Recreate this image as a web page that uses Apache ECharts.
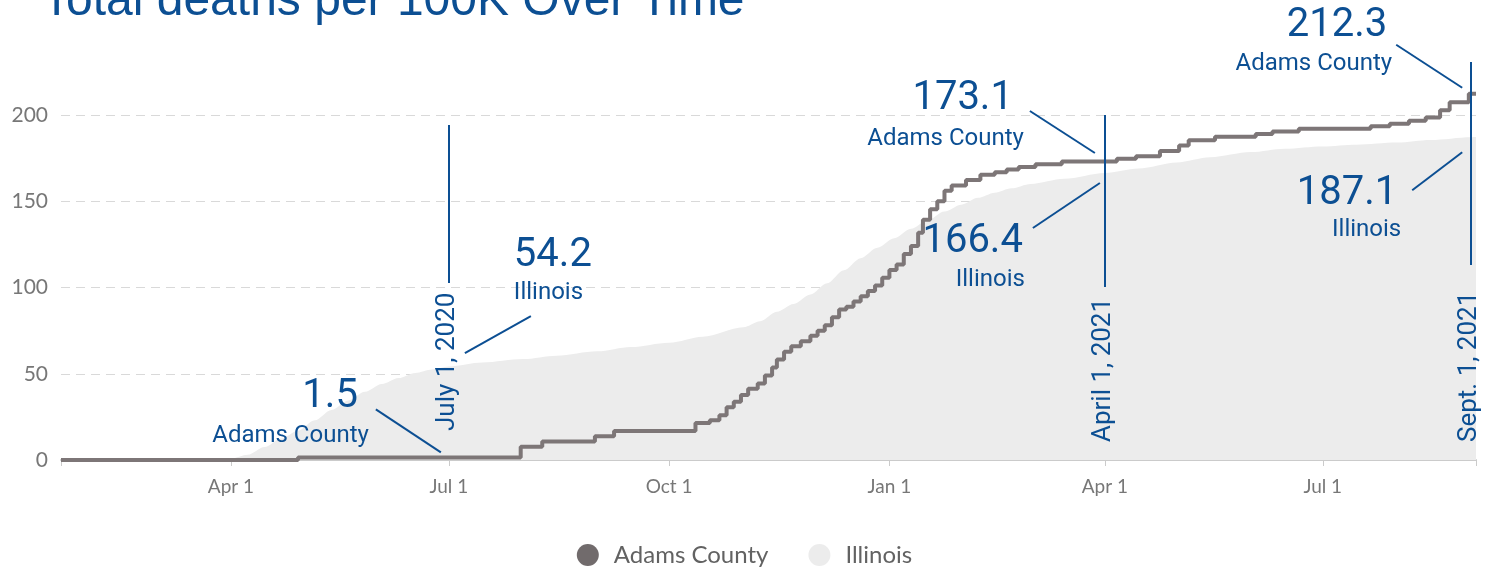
<!DOCTYPE html>
<html>
<head>
<meta charset="utf-8">
<title>Total deaths per 100K Over Time</title>
<script src="https://cdn.jsdelivr.net/npm/echarts@6/dist/echarts.min.js"></script>
<style>
  html, body { margin: 0; padding: 0; background: #ffffff; }
  #chart { width: 1489px; height: 569px; }
</style>
</head>
<body>
<div id="chart"></div>
<script>
// Cumulative COVID-19 deaths per 100,000 residents.

// Adams County: date on which the running total changed, and the new total.
const adamsDates = [
  '2020-01-21', '2020-04-29', '2020-07-31', '2020-08-09', '2020-08-31', '2020-09-08',
  '2020-10-12', '2020-10-18', '2020-10-22', '2020-10-25', '2020-10-28', '2020-10-31',
  '2020-11-03', '2020-11-07', '2020-11-10', '2020-11-13', '2020-11-15', '2020-11-18',
  '2020-11-21', '2020-11-25', '2020-11-29', '2020-12-02', '2020-12-05', '2020-12-08',
  '2020-12-11', '2020-12-14', '2020-12-17', '2020-12-20', '2020-12-23', '2020-12-26',
  '2020-12-29', '2021-01-01', '2021-01-04', '2021-01-07', '2021-01-10', '2021-01-13',
  '2021-01-15', '2021-01-18', '2021-01-21', '2021-01-24', '2021-01-27', '2021-02-02',
  '2021-02-08', '2021-02-14', '2021-02-19', '2021-02-24', '2021-03-03', '2021-03-14',
  '2021-04-06', '2021-04-14', '2021-04-24', '2021-05-02', '2021-05-06', '2021-05-17',
  '2021-06-03', '2021-06-10', '2021-06-21', '2021-07-21', '2021-07-29', '2021-08-06',
  '2021-08-13', '2021-08-19', '2021-08-23', '2021-08-31', '2021-09-03'
];
const adamsValues = [
  0, 1.5, 7.7, 10.7, 13.8, 16.8,
  21.4, 23.0, 26.0, 30.6, 33.7, 37.7,
  41.3, 44.4, 49.0, 53.6, 58.2, 62.8,
  65.9, 68.9, 72.0, 75.0, 78.1, 82.7,
  87.3, 88.8, 91.9, 94.9, 98.0, 101.1,
  105.7, 110.2, 113.3, 119.4, 124.0, 131.7,
  139.3, 145.4, 150.0, 156.1, 159.2, 162.3,
  165.3, 166.8, 168.4, 169.9, 171.5, 173.1,
  174.6, 176.1, 179.2, 182.3, 185.3, 187.4,
  189.0, 190.5, 192.0, 193.5, 195.0, 196.6,
  198.6, 202.8, 207.4, 212.3, 212.3
];

// Illinois statewide.
const illinoisDates = [
  '2020-01-21', '2020-03-15', '2020-03-25', '2020-04-01', '2020-04-08', '2020-04-15',
  '2020-04-22', '2020-04-29', '2020-05-06', '2020-05-13', '2020-05-20', '2020-05-27',
  '2020-06-03', '2020-06-10', '2020-06-17', '2020-06-24', '2020-07-01', '2020-07-15',
  '2020-08-01', '2020-08-15', '2020-09-01', '2020-09-15', '2020-10-01', '2020-10-15',
  '2020-11-01', '2020-11-08', '2020-11-15', '2020-11-22', '2020-11-29', '2020-12-06',
  '2020-12-13', '2020-12-20', '2020-12-27', '2021-01-03', '2021-01-10', '2021-01-17',
  '2021-01-24', '2021-01-31', '2021-02-07', '2021-02-14', '2021-02-21', '2021-03-01',
  '2021-03-15', '2021-04-01', '2021-04-15', '2021-05-01', '2021-05-15', '2021-06-01',
  '2021-06-15', '2021-07-01', '2021-07-15', '2021-08-01', '2021-08-15', '2021-09-01',
  '2021-09-03'
];
const illinoisValues = [
  0, 0, 0.3, 0.8, 3.0, 7.5,
  12.5, 17.0, 23.0, 29.0, 34.5, 39.5,
  44.0, 47.5, 50.5, 52.5, 54.2, 56.5,
  58.5, 60.5, 63.0, 65.5, 68.0, 71.5,
  77.0, 80.5, 86.0, 90.5, 96.0, 102.5,
  110.0, 117.0, 123.0, 128.5, 134.0, 139.0,
  144.0, 148.0, 152.0, 155.0, 157.5, 160.0,
  163.0, 166.4, 169.0, 172.5, 175.5, 178.5,
  180.5, 181.8, 182.8, 184.0, 185.5, 187.1,
  187.2
];

// Axis ticks.
const tickDates = ['2020-04-01', '2020-07-01', '2020-10-01', '2021-01-01', '2021-04-01', '2021-07-01'];
const tickLabels = ['Apr 1', 'Jul 1', 'Oct 1', 'Jan 1', 'Apr 1', 'Jul 1'];
const axisStart = '2020-01-21';
const axisEnd = '2021-09-03';

// Dated reference lines and the values called out beside them.
const markerDates = ['2020-07-01', '2021-04-01', '2021-09-01'];
const markerLabels = ['July 1, 2020', 'April 1, 2021', 'Sept. 1, 2021'];
const calloutDates = ['2020-07-01', '2020-07-01', '2021-04-01', '2021-04-01', '2021-09-01', '2021-09-01'];
const calloutValues = [1.5, 54.2, 173.1, 166.4, 212.3, 187.1];
const calloutNames = ['Adams County', 'Illinois', 'Adams County', 'Illinois', 'Adams County', 'Illinois'];

// ---- layout and styling ----
const BLUE = '#0c4f93';
const markerLayout = [
  { top: 125, bottom: 283, textBottom: 431 },
  { top: 115, bottom: 287, textBottom: 442 },
  { top: 62, bottom: 265, textBottom: 442 }
];
// Offsets of each callout relative to the point it describes.
const calloutLayout = [
  { align: 'right', num: [-91, -60],   name: [-80, -21],   from: [-73, -48],   to: [-8, -5] },
  { align: 'left',  num: [65, -110.5], name: [65, -73.5],  from: [16, -13.5],  to: [82, -50.5] },
  { align: 'right', num: [-92, -62.4], name: [-81, -22.4], from: [-75, -50.4], to: [-10, -8.4] },
  { align: 'right', num: [-82, 69.5],  name: [-80, 107],   from: [-72, 55],    to: [-5, 10] },
  { align: 'right', num: [-84, -67.8], name: [-79, -29.8], from: [-75, -49],   to: [-9, -6] },
  { align: 'right', num: [-74, 56.7],  name: [-70, 93],    from: [-59, 53],    to: [-9, 15] }
];

// Dates are placed on a linear value axis as local-midnight timestamps.
function toTime(s) {
  const p = s.split('-').map(Number);
  return new Date(p[0], p[1] - 1, p[2]).getTime();
}

const labelByTime = {};
tickDates.forEach((d, i) => { labelByTime[toTime(d)] = tickLabels[i]; });
const tickTimes = tickDates.map(toTime);
const tickMarkTimes = [toTime(axisStart)].concat(tickTimes, [toTime(axisEnd)]);

const chart = echarts.init(document.getElementById('chart'), null, { renderer: 'canvas' });

const option = {
  animation: false,
  backgroundColor: '#ffffff',
  grid: { left: 61, right: 13, top: 115, bottom: 109, containLabel: false },
  legend: {
    data: ['Adams County', 'Illinois'],
    left: 'center',
    top: 538,
    icon: 'circle',
    itemWidth: 22,
    itemHeight: 22,
    itemGap: 40,
    textStyle: { fontFamily: 'Lato', fontSize: 24, color: '#626262', padding: [0, 0, 0, 10] }
  },
  xAxis: {
    type: 'value',
    min: toTime(axisStart),
    max: toTime(axisEnd),
    axisLine: { show: true, lineStyle: { color: '#cbcbcb', width: 2 } },
    axisTick: { show: true, customValues: tickMarkTimes, length: 6, lineStyle: { color: '#cbcbcb', width: 1 } },
    axisLabel: {
      customValues: tickTimes,
      formatter: v => labelByTime[v] || '',
      fontFamily: 'Lato', fontSize: 19, color: '#777777', margin: 17
    },
    splitLine: { show: false }
  },
  yAxis: {
    type: 'value',
    min: 0, max: 200, interval: 50,
    axisLine: { show: false },
    axisTick: { show: false },
    axisLabel: { fontFamily: 'Lato', fontSize: 21, color: '#777777', margin: 13 },
    splitLine: { show: true, lineStyle: { color: '#d9d9d9', width: 1, type: [9, 6] } }
  },
  series: [
    {
      name: 'Illinois',
      type: 'line',
      data: illinoisDates.map((d, i) => [toTime(d), illinoisValues[i]]),
      smooth: 0.3,
      smoothMonotone: 'x',
      showSymbol: false,
      symbol: 'none',
      itemStyle: { color: '#ececec' },
      lineStyle: { width: 0, color: '#ececec' },
      areaStyle: { color: '#ececec', opacity: 1 },
      z: 1
    },
    {
      name: 'Adams County',
      type: 'line',
      step: 'end',
      data: adamsDates.map((d, i) => [toTime(d), adamsValues[i]]),
      showSymbol: false,
      symbol: 'none',
      clip: false,
      itemStyle: { color: '#716b6c' },
      lineStyle: { width: 4, color: '#7d7677' },
      z: 3
    }
  ]
};

chart.setOption(option);

function px(date, value) {
  return chart.convertToPixel({ gridIndex: 0 }, [toTime(date), value]);
}

function buildAnnotations() {
  const els = [];
  // Title
  els.push({
    type: 'text', x: 42, y: 2, z: 20,
    style: {
      text: 'Total deaths per 100K Over Time', fill: BLUE,
      fontFamily: 'Liberation Sans', fontSize: 48,
      align: 'left', verticalAlign: 'middle', textAlign: 'left', textVerticalAlign: 'middle'
    }
  });
  // Dated reference lines with rotated labels
  markerDates.forEach((d, i) => {
    const x = Math.round(px(d, 0)[0]);
    const L = markerLayout[i];
    els.push({
      type: 'line', z: 20,
      shape: { x1: x, y1: L.top, x2: x, y2: L.bottom },
      style: { stroke: BLUE, lineWidth: 2 }
    });
    els.push({
      type: 'text', x: x - 2, y: L.textBottom, rotation: Math.PI / 2, z: 20,
      style: {
        text: markerLabels[i], fill: BLUE, fontFamily: 'Roboto', fontSize: 26,
        align: 'left', verticalAlign: 'middle', textAlign: 'left', textVerticalAlign: 'middle'
      }
    });
  });
  // Value callouts with leader lines
  calloutDates.forEach((d, i) => {
    const p = px(d, calloutValues[i]);
    const L = calloutLayout[i];
    els.push({
      type: 'line', z: 20,
      shape: { x1: p[0] + L.from[0], y1: p[1] + L.from[1], x2: p[0] + L.to[0], y2: p[1] + L.to[1] },
      style: { stroke: BLUE, lineWidth: 2 }
    });
    els.push({
      type: 'text', x: p[0] + L.num[0], y: p[1] + L.num[1], z: 20,
      style: {
        text: calloutValues[i].toFixed(1), fill: BLUE, fontFamily: 'Roboto', fontSize: 40,
        align: L.align, verticalAlign: 'middle', textAlign: L.align, textVerticalAlign: 'middle'
      }
    });
    els.push({
      type: 'text', x: p[0] + L.name[0], y: p[1] + L.name[1], z: 20,
      style: {
        text: calloutNames[i], fill: BLUE, fontFamily: 'Roboto', fontSize: 24,
        align: L.align, verticalAlign: 'middle', textAlign: L.align, textVerticalAlign: 'middle'
      }
    });
  });
  return els;
}

chart.setOption({ graphic: { elements: buildAnnotations() } });
</script>
</body>
</html>
